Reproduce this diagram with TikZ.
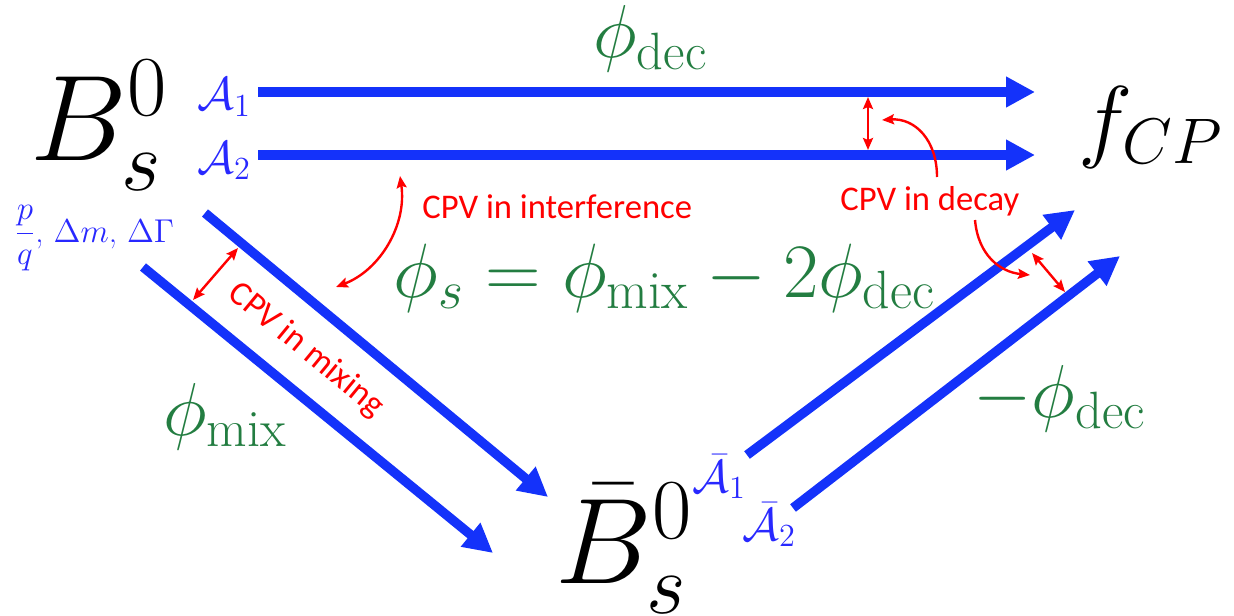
\RequirePackage{fix-cm}
\documentclass[tikz,border=0pt]{standalone}
\usepackage{fontspec}
\newfontfamily\calfont{Carlito}
\usetikzlibrary{arrows.meta}
\definecolor{arrblue}{RGB}{20,50,250}
\definecolor{txtblue}{RGB}{40,40,255}
\definecolor{eqgreen}{RGB}{35,125,65}
\definecolor{cpvred}{RGB}{255,0,0}
\begin{document}
\begin{tikzpicture}[x=0.5pt,y=-0.5pt,
  bigarrow/.style={draw=arrblue, line width=4.7pt, -{Triangle[length=14.5pt,width=14.5pt]}},
  redarrow/.style={draw=cpvred, line width=1.2pt, {Stealth[length=6pt,width=5pt,inset=1pt]}-{Stealth[length=6pt,width=5pt,inset=1pt]}},
  redcurve/.style={draw=cpvred, line width=1.2pt, -{Stealth[length=6pt,width=5pt,inset=1pt]}},
  lbl/.style={inner sep=0pt, anchor=base west},
  meson/.style={lbl, font=\fontsize{61}{70}\selectfont},
  final/.style={lbl, font=\fontsize{46}{52}\selectfont},
  amp/.style={lbl, text=txtblue, font=\fontsize{23}{27}\selectfont},
  param/.style={lbl, text=txtblue, font=\fontsize{16.5}{19}\selectfont},
  phase/.style={lbl, text=eqgreen, font=\fontsize{37.5}{42}\selectfont},
  bigphase/.style={lbl, text=eqgreen, font=\fontsize{38.5}{43}\selectfont},
  cpv/.style={inner sep=0pt, text=cpvred, font=\calfont\fontsize{17.3}{20}\selectfont},
]
\useasboundingbox (0,0) rectangle (1234,615);

% mesons and final state
\node[meson] (Bs) at (30,160) {$B^0_s$};
\node[meson] (Bsbar) at (555,583) {$\bar B^0_s$};
\node[final] (fcp) at (1078,150) {$f_{CP}$};

% amplitudes
\node[amp] (A1) at (197,110) {$\mathcal{A}_1$};
\node[amp] (A2) at (197,173) {$\mathcal{A}_2$};
\node[amp] (A1b) at (692,492) {$\bar{\mathcal{A}}_1$};
\node[amp] (A2b) at (742,540) {$\bar{\mathcal{A}}_2$};
\node[param] (pq) at (14,242) {${\displaystyle\frac{p}{q}}$, $\Delta m$, $\Delta\Gamma$};

% phases
\node[phase] (phidec) at (593,58) {$\phi_{\mathrm{dec}}$};
\node[phase] (phimix) at (163,435) {$\phi_{\mathrm{mix}}$};
\node[phase] (mphidec) at (973,417) {$-\phi_{\mathrm{dec}}$};
\node[bigphase] (phis) at (393,297) {$\phi_s=\phi_{\mathrm{mix}}-2\phi_{\mathrm{dec}}$};

% CPV labels
\node[cpv, anchor=base west] (cpvint) at (422,218) {CPV in interference};
\node[cpv, anchor=base west] (cpvdec) at (840,210) {CPV in decay};
\node[cpv, rotate=-39.5] (cpvmix) at (306,350) {CPV in mixing};

% arrow end points
\coordinate (t1s) at (258,92);   \coordinate (t1e) at (1035,92);
\coordinate (t2s) at (258,155);  \coordinate (t2e) at (1035,155);
\coordinate (d1s) at (205,213);  \coordinate (d1e) at (548,497);
\coordinate (d2s) at (143,267);  \coordinate (d2e) at (493,553);
\coordinate (r1s) at (747,455);  \coordinate (r1e) at (1075,210);
\coordinate (r2s) at (793,508);  \coordinate (r2e) at (1120,256);

\draw[bigarrow] (t1s) -- (t1e);
\draw[bigarrow] (t2s) -- (t2e);
\draw[bigarrow] (d1s) -- (d1e);
\draw[bigarrow] (d2s) -- (d2e);
\draw[bigarrow] (r1s) -- (r1e);
\draw[bigarrow] (r2s) -- (r2e);

% red double arrows
\coordinate (va) at (868,97);   \coordinate (vb) at (868,150);
\coordinate (ma) at (193,300);  \coordinate (mb) at (238,248);
\coordinate (da) at (1032,253); \coordinate (db) at (1065,292);
\draw[redarrow] (va) -- (vb);
\draw[redarrow] (ma) -- (mb);
\draw[redarrow] (da) -- (db);

% curved red arrows
\coordinate (ia) at (400,176);  \coordinate (ib) at (336,287);
\draw[redarrow] (ia) .. controls (407,225) and (380,270) .. (ib);
\coordinate (c1s) at (937,177); \coordinate (c1e) at (882,120);
\draw[redcurve] (c1s) .. controls (937,140) and (915,118) .. (c1e);
\coordinate (c2s) at (975,220); \coordinate (c2e) at (1030,275);
\draw[redcurve] (c2s) .. controls (978,255) and (1000,272) .. (c2e);
\end{tikzpicture}
\end{document}
